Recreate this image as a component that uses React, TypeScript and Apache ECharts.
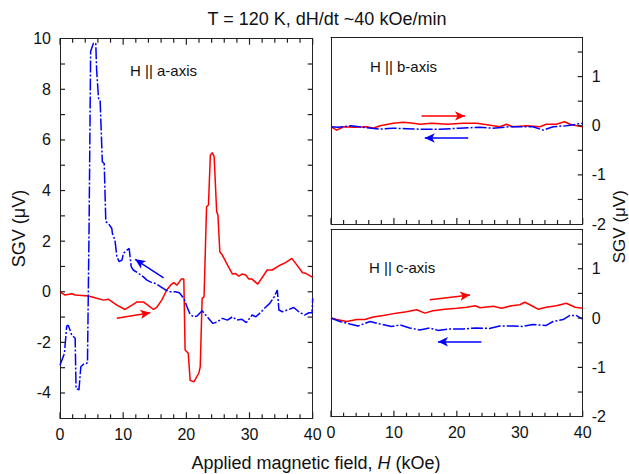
import React, { useEffect, useRef } from "react";
import * as echarts from "echarts";

// ---- Data (H in kOe, SGV in µV) ----
const aRed: number[][] = [
  [0, 0], [0.8, -0.13], [1.9, -0.08], [2.4, -0.13], [4.5, -0.17], [5.8, -0.26], [6.9, -0.33],
  [7.7, -0.3], [9, -0.53], [10.3, -0.7], [11.4, -0.53], [12.2, -0.4], [13.2, -0.4], [13.9, -0.53],
  [14.8, -0.7], [15.3, -0.62], [16.1, -0.33], [16.9, 0.07], [17.5, 0.26], [18, 0.36], [18.5, 0.26],
  [19.2, 0.5], [19.6, 0.5], [19.8, -2.3], [20.3, -2.43], [20.6, -3.5], [21.2, -3.56], [22, -3.2],
  [22.2, -2.96], [22.5, -0.26], [22.8, -0.2], [23.2, 3.36], [23.5, 3.43], [23.8, 5.4], [24.1, 5.5],
  [24.4, 5.34], [24.8, 3.16], [25, 3.03], [25.3, 1.58], [25.7, 1.45], [26.5, 1.06], [27.3, 0.7],
  [27.8, 0.72], [28.3, 0.62], [28.8, 0.7], [29.4, 0.66], [29.9, 0.5], [30.4, 0.5], [31.3, 0.3],
  [32.8, 0.86], [33.6, 0.86], [34.9, 1.06], [35.7, 1.15], [36.7, 1.32], [37.3, 1.12], [38.4, 0.75],
  [38.9, 0.73], [40, 0.57],
];
const aBlue: number[][] = [
  [0, -2.9], [0.7, -2.43], [1.06, -1.36], [1.3, -1.32], [1.86, -1.71], [2.4, -1.84], [2.54, -3.82],
  [3.0, -3.88], [3.3, -2.96], [3.86, -2.83], [4.2, -2.83], [4.35, -2.8], [4.6, 2.5], [4.85, 9.5],
  [5.3, 9.82], [5.66, 9.82], [5.8, 8.76], [6.1, 7.64], [6.35, 7.58], [6.7, 5.14], [7.0, 5.07],
  [7.25, 2.77], [7.67, 2.7], [8.2, 2.5], [8.3, 2.3], [8.7, 2.04], [9.0, 1.38], [9.37, 1.19],
  [9.8, 1.25], [10.05, 1.52], [10.6, 1.65], [10.95, 1.71], [11.27, 0.99], [11.6, 0.86], [12.4, 0.73],
  [13.2, 0.59], [13.76, 0.46], [14.55, 0.36], [15.1, 0.33], [15.9, 0.2], [16.7, 0.07], [17.5, 0],
  [18.25, 0], [18.9, -0.04], [19.6, -0.26], [20.1, -0.59], [20.6, -0.9], [21.2, -0.99], [21.7, -0.96],
  [22.5, -0.75], [23.3, -0.99], [24.2, -1.25], [24.9, -1.19], [25.7, -1.05], [26.5, -1.12],
  [27.3, -0.99], [28, -1.12], [28.8, -1.09], [29.5, -1.22], [30.4, -0.92], [31, -0.99], [31.7, -0.83],
  [32.5, -0.62], [33.2, -0.46], [33.9, -0.2], [34.4, 0.07], [34.65, -0.72], [35.2, -0.79], [36, -0.72],
  [37, -0.62], [37.8, -0.79], [38.7, -0.92], [39.4, -0.83], [39.9, -0.83], [40, -0.25],
];
const bRed: number[][] = [
  [0, -0.02], [0.9, -0.09], [2, -0.02], [3.6, -0.03], [5.7, -0.02], [6.7, -0.05], [7.8, 0],
  [9.9, 0.05], [11.5, 0.07], [13.1, 0.05], [14.1, 0.03], [16, 0.05], [18.5, 0.03], [21, 0.05],
  [23.1, 0.05], [24.8, 0.02], [26.8, -0.02], [27.9, 0.03], [28.9, -0.02], [31.1, 0], [33.2, -0.02],
  [34.2, 0.03], [35.8, 0.03], [37.1, 0.08], [38.2, 0.02], [40, -0.02],
];
const bBlue: number[][] = [
  [0, -0.02], [1.1, -0.03], [3.2, 0], [5, -0.03], [7.7, -0.07], [9.8, -0.05], [12, -0.06],
  [14.1, -0.07], [17.3, -0.07], [20.4, -0.05], [23.6, -0.03], [25.7, -0.05], [28.4, -0.02],
  [32.1, -0.02], [33.7, -0.09], [35.3, -0.02], [37.4, 0], [40, 0.05],
];
const cRed: number[][] = [
  [0, 0], [0.9, -0.03], [2.5, -0.07], [4.1, -0.03], [5.4, -0.03], [6.7, 0.02], [8.3, 0.05],
  [10.4, 0.1], [12, 0.13], [13.6, 0.17], [14.9, 0.1], [16.2, 0.15], [18.1, 0.18], [20, 0.2],
  [21.6, 0.22], [22.9, 0.25], [23.7, 0.21], [25.8, 0.24], [27.1, 0.2], [28.7, 0.25], [30, 0.27],
  [30.8, 0.32], [31.6, 0.27], [32.9, 0.18], [34.2, 0.22], [35.8, 0.25], [37.4, 0.3], [38.8, 0.22],
  [40, 0.2],
];
const cBlue: number[][] = [
  [0, 0], [1.4, -0.07], [3, -0.12], [4.3, -0.16], [6.2, -0.07], [7.8, -0.12], [9.6, -0.17],
  [11, -0.14], [12.5, -0.2], [14.1, -0.24], [15.7, -0.2], [17, -0.25], [18.9, -0.22], [21, -0.22],
  [23.1, -0.2], [25.2, -0.21], [26.8, -0.16], [28.9, -0.16], [30.4, -0.17], [32.1, -0.13],
  [34.2, -0.15], [35.3, -0.07], [36.9, -0.03], [37.9, 0.05], [39, 0.05], [40, -0.02],
];
// arrows: [tail, head]
const aRedArrow = [[9.0, -1.05], [14.3, -0.83]];
const aBlueArrow = [[16.4, 0.55], [11.9, 1.28]];
const bRedArrow = [[14.4, 0.2], [21.3, 0.2]];
const bBlueArrow = [[21.8, -0.25], [14.9, -0.25]];
const cRedArrow = [[15.7, 0.37], [22.1, 0.47]];
const cBlueArrow = [[23.9, -0.48], [17.0, -0.48]];

// tick values
const xMajorTicks = [0, 10, 20, 30, 40];
const xMinorTicks = [2, 4, 6, 8, 12, 14, 16, 18, 22, 24, 26, 28, 32, 34, 36, 38];
const yLeftTicks = [-4, -3, -2, -1, 0, 1, 2, 3, 4, 5, 6, 7, 8, 9];
const yRightTicks = [-1.5, -1, -0.5, 0, 0.5, 1, 1.5];

const X_MIN = 0, X_MAX = 40;
const YA_MIN = -5, YA_MAX = 10;
const YR_MIN = -2, YR_MAX = 1.8;

const FONT = "'Liberation Sans', Arial, sans-serif";
const RED = "#ff0000";
const BLUE = "#0000ff";
const AX = "#222";

export default function App() {
  const ref = useRef<HTMLDivElement>(null);
  useEffect(() => {
    if (!ref.current) return;
    const chart = echarts.init(ref.current, null, { renderer: "svg" });

    const lbl = (show: boolean, margin: number, formatter?: any) => ({
      show,
      margin,
      fontSize: 16,
      fontFamily: FONT,
      color: "#111",
      ...(formatter ? { formatter } : {}),
    });

    const xAx = (gridIndex: number, position: string, showLabel = false) => ({
      type: "value",
      gridIndex,
      position,
      min: X_MIN,
      max: X_MAX,
      interval: 10,
      axisLine: { show: true, onZero: false, lineStyle: { color: AX, width: 1 } },
      axisTick: { show: false },
      minorTick: { show: false },
      splitLine: { show: false },
      axisLabel: lbl(showLabel, 8),
    });
    const yAAx = (gridIndex: number, position: string, showLabel = false) => ({
      type: "value",
      gridIndex,
      position,
      min: YA_MIN,
      max: YA_MAX,
      interval: 1,
      axisLine: { show: true, onZero: false, lineStyle: { color: AX, width: 1 } },
      axisTick: { show: false },
      splitLine: { show: false },
      axisLabel: lbl(showLabel, 9, (v: number) => (Math.round(v) % 2 === 0 ? String(v) : "")),
    });
    const yRAx = (gridIndex: number, position: string, showLabel = false) => ({
      type: "value",
      gridIndex,
      position,
      min: YR_MIN,
      max: YR_MAX,
      interval: 0.5,
      axisLine: { show: true, onZero: false, lineStyle: { color: AX, width: 1 } },
      axisTick: { show: false },
      splitLine: { show: false },
      axisLabel: lbl(showLabel, 9, (v: number) => (Number.isInteger(v) ? String(v) : "")),
    });

    const arrow = (pts: number[][], color: string) => ({
      silent: true,
      symbol: ["none", "arrow"],
      symbolSize: [7, 10],
      label: { show: false },
      emphasis: { disabled: true },
      lineStyle: { color, width: 1.5, type: "solid" },
      data: [[{ coord: pts[0] }, { coord: pts[1] }]],
    });

    const line = (
      name: string,
      data: number[][],
      xi: number,
      yi: number,
      color: string,
      dashed: boolean,
      arr: number[][]
    ) => ({
      name,
      type: "line",
      xAxisIndex: xi,
      yAxisIndex: yi,
      data,
      showSymbol: false,
      symbol: "none",
      lineStyle: { color, width: 1.5, type: dashed ? [12, 2, 2, 2] : "solid" },
      itemStyle: { color },
      emphasis: { disabled: true },
      markLine: arrow(arr, color),
    });

    // tick marks: thin filled rectangles placed through the axes' scales (api.coord)
    const tickSeries = (xi: number, yi: number, items: number[][]) => ({
      type: "custom",
      coordinateSystem: "cartesian2d",
      xAxisIndex: xi,
      yAxisIndex: yi,
      silent: true,
      clip: false,
      z: 10,
      dimensions: ["x", "y", "dx", "dy"],
      encode: { x: 0, y: 1 },
      data: items,
      renderItem: (_p: any, api: any) => {
        const p = api.coord([api.value(0), api.value(1)]);
        const dx = Number(api.value(2)) || 0;
        const dy = Number(api.value(3)) || 0;
        const w = dx === 0 ? 1.2 : Math.abs(dx);
        const h = dy === 0 ? 1.2 : Math.abs(dy);
        const x = dx === 0 ? p[0] - 0.6 : dx > 0 ? p[0] : p[0] + dx;
        const y = dy === 0 ? p[1] - 0.6 : dy > 0 ? p[1] : p[1] + dy;
        return {
          type: "rect",
          shape: { x, y, width: w, height: h },
          style: { fill: AX },
        };
      },
    });
    const xT = (vals: number[], yEdge: number, dy: number) => vals.map((v) => [v, yEdge, 0, dy]);
    const yT = (vals: number[], xEdge: number, dx: number) => vals.map((v) => [xEdge, v, dx, 0]);

    const txt = (text: string, x: number, y: number, size: number, opts: any = {}) => ({
      type: "text",
      x,
      y,
      silent: true,
      rotation: opts.rotation || 0,
      style: {
        text,
        font: `${size}px ${FONT}`,
        fill: "#111",
        textAlign: opts.align || "left",
        textVerticalAlign: "middle",
      },
    });

    chart.setOption({
      animation: false,
      backgroundColor: "#fff",
      grid: [
        { left: 60, top: 38.7, width: 252.7, height: 379.6, show: false },
        { left: 331, top: 37.3, width: 251.7, height: 186.7, show: false },
        { left: 331, top: 229.3, width: 251.7, height: 187.4, show: false },
      ],
      xAxis: [
        xAx(0, "bottom", true), // 0
        xAx(1, "bottom"), // 1
        xAx(2, "bottom", true), // 2
        xAx(0, "top"), // 3
        xAx(1, "top"), // 4
        xAx(2, "top"), // 5
      ],
      yAxis: [
        yAAx(0, "left", true), // 0
        yRAx(1, "right", true), // 1
        yRAx(2, "right", true), // 2
        yAAx(0, "right"), // 3
        yRAx(1, "left"), // 4
        yRAx(2, "left"), // 5
      ],
      series: [
        line("a-up", aRed, 0, 0, RED, false, aRedArrow),
        line("a-down", aBlue, 0, 0, BLUE, true, aBlueArrow),
        line("b-up", bRed, 1, 1, RED, false, bRedArrow),
        line("b-down", bBlue, 1, 1, BLUE, true, bBlueArrow),
        line("c-up", cRed, 2, 2, RED, false, cRedArrow),
        line("c-down", cBlue, 2, 2, BLUE, true, cBlueArrow),
        // panel a ticks
        tickSeries(0, 0, [
          ...xT(xMajorTicks, YA_MIN, -6), ...xT(xMinorTicks, YA_MIN, -4),
          ...xT(xMajorTicks, YA_MAX, 6), ...xT(xMinorTicks, YA_MAX, 4),
          ...yT(yLeftTicks, X_MIN, 5), ...yT(yLeftTicks, X_MAX, -5),
        ]),
        // panel b ticks
        tickSeries(1, 1, [
          ...xT(xMajorTicks, YR_MIN, -6), ...xT(xMinorTicks, YR_MIN, -4),
          ...yT(yRightTicks, X_MAX, -5),
        ]),
        // panel c ticks
        tickSeries(2, 2, [
          ...xT(xMajorTicks, YR_MIN, -6), ...xT(xMinorTicks, YR_MIN, -4),
          ...yT(yRightTicks, X_MAX, -5),
        ]),
      ],
      graphic: [
        txt("T = 120 K, dH/dt ~40 kOe/min", 327, 19, 18, { align: "center" }),
        {
          type: "text",
          x: 316,
          y: 463,
          silent: true,
          style: {
            text: "{n|Applied magnetic field, }{i|H}{n| (kOe)}",
            textAlign: "center",
            textVerticalAlign: "middle",
            rich: {
              n: { font: `18px ${FONT}`, fill: "#111" },
              i: { font: `italic 18px ${FONT}`, fill: "#111" },
            },
          },
        },
        txt("SGV (\u03bcV)", 19, 228.5, 18, { align: "center", rotation: Math.PI / 2 }),
        txt("SGV (\u03bcV)", 619, 226.7, 17, { align: "center", rotation: Math.PI / 2 }),
        txt("H || a-axis", 130, 70.7, 15),
        txt("H || b-axis", 370, 66.7, 15),
        txt("H || c-axis", 369, 267.7, 15),
      ],
    });
    return () => chart.dispose();
  }, []);
  return (
    <div
      ref={ref}
      style={{ position: "fixed", left: 0, top: 0, width: 629, height: 474 }}
    />
  );
}
